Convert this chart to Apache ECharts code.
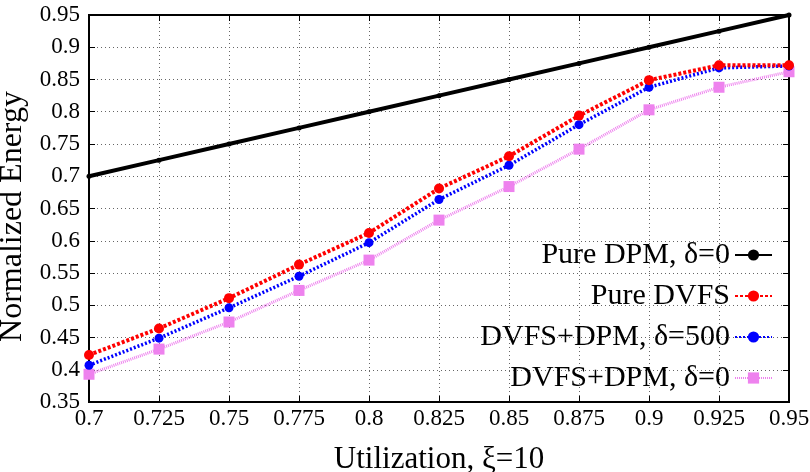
<!DOCTYPE html>
<html>
<head>
<meta charset="utf-8">
<script src="https://cdn.jsdelivr.net/npm/echarts@6/dist/echarts.min.js"></script>
<style>
  html, body { margin: 0; padding: 0; background: #fff; }
  #chart { width: 810px; height: 472px; }
</style>
</head>
<body>
<div id="chart"></div>
<script>
// utilization values on the x axis
const utilization = ['0.7', '0.725', '0.75', '0.775', '0.8', '0.825', '0.85', '0.875', '0.9', '0.925', '0.95']

// normalized energy per scheme
const pureDpm = [0.7, 0.725, 0.75, 0.775, 0.8, 0.825, 0.85, 0.875, 0.9, 0.925, 0.95]
const pureDvfs = [0.423, 0.464, 0.511, 0.563, 0.612, 0.681, 0.731, 0.794, 0.849, 0.872, 0.872]
const dvfsDpm500 = [0.407, 0.449, 0.496, 0.545, 0.597, 0.664, 0.717, 0.780, 0.838, 0.868, 0.871]
const dvfsDpm0 = [0.393, 0.432, 0.474, 0.523, 0.570, 0.632, 0.684, 0.742, 0.803, 0.838, 0.862]

const FONT = 'Liberation Serif'

const chart = echarts.init(document.getElementById('chart'))

const gridLine = { show: true, lineStyle: { color: '#666', type: [1, 3], width: 1 } }

chart.setOption({
  animation: false,
  textStyle: { fontFamily: FONT, color: '#000' },
  grid: {
    left: 89, right: 21, top: 15, bottom: 70,
    outerBoundsMode: 'none', containLabel: false,
    show: true, borderColor: '#000', borderWidth: 2
  },
  legend: {
    orient: 'vertical',
    right: 37,
    top: 240,
    padding: 0,
    align: 'right',
    itemWidth: 37,
    itemHeight: 14,
    itemGap: 11,
    textStyle: { fontFamily: FONT, fontSize: 30, color: '#000' },
    data: ['Pure DPM, δ=0', 'Pure DVFS', 'DVFS+DPM, δ=500', 'DVFS+DPM, δ=0']
  },
  xAxis: [
    {
      type: 'category',
      data: utilization,
      boundaryGap: false,
      name: 'Utilization, ξ=10',
      nameLocation: 'middle',
      nameGap: 42,
      nameTextStyle: { fontFamily: FONT, fontSize: 31, color: '#000', verticalAlign: 'top' },
      axisLine: { lineStyle: { color: '#000', width: 2 } },
      axisTick: { inside: true, length: 6, lineStyle: { color: '#000' } },
      axisLabel: { fontFamily: FONT, fontSize: 23, color: '#000', margin: 5 },
      splitLine: gridLine
    },
    {
      type: 'category',
      data: utilization,
      boundaryGap: false,
      position: 'top',
      axisLine: { lineStyle: { color: '#000', width: 2 } },
      axisTick: { inside: true, length: 6, lineStyle: { color: '#000' } },
      axisLabel: { show: false },
      splitLine: { show: false }
    }
  ],
  yAxis: [
    {
      type: 'value',
      min: 0.35,
      max: 0.95,
      interval: 0.05,
      name: 'Normalized Energy',
      nameLocation: 'middle',
      nameGap: 48,
      nameTextStyle: { fontFamily: FONT, fontSize: 32, color: '#000', padding: [0, 16, 0, 0] },
      axisLine: { show: true, lineStyle: { color: '#000', width: 2 } },
      axisTick: { show: true, inside: true, length: 6, lineStyle: { color: '#000' } },
      axisLabel: {
        fontFamily: FONT, fontSize: 23, color: '#000', margin: 9,
        formatter: v => String(+v.toFixed(2))
      },
      splitLine: gridLine
    },
    {
      type: 'value',
      min: 0.35,
      max: 0.95,
      interval: 0.05,
      position: 'right',
      axisLine: { show: true, lineStyle: { color: '#000', width: 2 } },
      axisTick: { show: true, inside: true, length: 6, lineStyle: { color: '#000' } },
      axisLabel: { show: false },
      splitLine: { show: false }
    }
  ],
  series: [
    {
      name: 'Pure DPM, δ=0',
      type: 'line',
      data: pureDpm,
      symbol: 'circle',
      symbolSize: 5,
      itemStyle: { color: '#000' },
      lineStyle: { color: '#000', width: 4 },
      z: 5
    },
    {
      name: 'Pure DVFS',
      type: 'line',
      data: pureDvfs,
      symbol: 'circle',
      symbolSize: 10,
      itemStyle: { color: '#ff0000' },
      lineStyle: { color: '#ff0000', width: 4, type: [3, 2] },
      z: 4
    },
    {
      name: 'DVFS+DPM, δ=500',
      type: 'line',
      data: dvfsDpm500,
      symbol: 'circle',
      symbolSize: 9,
      itemStyle: { color: '#0000ff' },
      lineStyle: { color: '#0000ff', width: 3.5, type: [2, 2] },
      z: 3
    },
    {
      name: 'DVFS+DPM, δ=0',
      type: 'line',
      data: dvfsDpm0,
      symbol: 'rect',
      symbolSize: 11,
      itemStyle: { color: '#ee82ee' },
      lineStyle: { color: '#ee82ee', width: 3, type: [1, 1] },
      z: 2
    }
  ]
})
</script>
</body>
</html>
